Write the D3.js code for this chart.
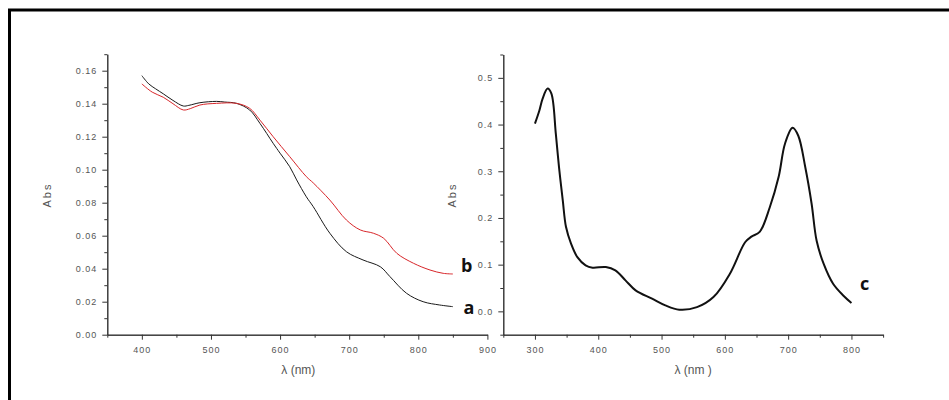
<!DOCTYPE html>
<html>
<head>
<meta charset="utf-8">
<script src="https://cdn.jsdelivr.net/npm/d3@7"></script>
<style>
  body { margin: 0; background: #fff; }
  .tick text { font-family: "Liberation Sans", Arial, sans-serif; font-size: 9px; fill: #555; letter-spacing: 1px; }
  .axis path, .axis line { stroke: #333; }
  .lab { font-family: "Liberation Sans", Arial, sans-serif; fill: #555; }
  .tag { font-family: "Open Sans", sans-serif; font-weight: bold; font-size: 18px; fill: #111; }
</style>
</head>
<body>
<svg width="949" height="400"></svg>
<script>
// left panel: curves a (black) and b (red)
var wlA = [400, 410, 420, 431, 445, 460, 468, 484, 508, 520, 537, 556, 571, 590, 600, 614, 624, 638, 648, 672, 696, 720, 745, 759, 783, 807, 831, 850];
var absA = [0.157, 0.152, 0.149, 0.146, 0.142, 0.1386, 0.139, 0.1406, 0.1414, 0.141, 0.1402, 0.1362, 0.128, 0.116, 0.110, 0.1018, 0.0938, 0.0836, 0.0776, 0.0615, 0.0503, 0.0453, 0.0412, 0.0352, 0.0251, 0.0200, 0.018, 0.017];
var wlB = [400, 415, 431, 445, 460, 470, 484, 508, 537, 556, 571, 590, 614, 638, 648, 672, 696, 716, 735, 750, 769, 793, 817, 836, 850];
var absB = [0.152, 0.147, 0.1439, 0.140, 0.1362, 0.137, 0.1392, 0.1402, 0.1402, 0.1372, 0.130, 0.120, 0.1079, 0.0958, 0.0920, 0.0816, 0.0695, 0.0635, 0.0615, 0.0584, 0.0493, 0.0433, 0.0392, 0.0372, 0.0368];
// right panel: curve c
var wlC = [300, 307, 312, 320, 326, 333, 338, 344, 349, 357, 367, 380, 391, 412, 427, 443, 459, 485, 506, 528, 556, 582, 608, 632, 642, 655, 671, 685, 695, 707, 716, 727, 737, 745, 756, 771, 787, 800];
var absC = [0.402, 0.430, 0.455, 0.477, 0.466, 0.380, 0.309, 0.237, 0.181, 0.145, 0.116, 0.0985, 0.0935, 0.0949, 0.0878, 0.0664, 0.045, 0.0272, 0.0128, 0.0036, 0.009, 0.0306, 0.0807, 0.148, 0.160, 0.170, 0.223, 0.288, 0.359, 0.393, 0.376, 0.309, 0.231, 0.151, 0.102, 0.059, 0.034, 0.018];

var leftYTicks = [0, 0.02, 0.04, 0.06, 0.08, 0.10, 0.12, 0.14, 0.16];
var leftXTicks = [400, 500, 600, 700, 800, 900];
var rightYTicks = [0.0, 0.1, 0.2, 0.3, 0.4, 0.5];
var rightXTicks = [300, 400, 500, 600, 700, 800];

var svg = d3.select("svg");

// frame (only top and left edges are in view)
svg.append("rect").attr("x", 9.5).attr("y", 10).attr("width", 1000).attr("height", 500)
    .attr("fill", "none").attr("stroke", "#000").attr("stroke-width", 3);

function panel(opt) {
    var x = d3.scaleLinear().domain(opt.xd).range(opt.xr);
    var y = d3.scaleLinear().domain(opt.yd).range(opt.yr);
    var g = svg.append("g");

    g.append("g").attr("class", "axis").attr("transform", "translate(0," + opt.yr[0] + ")")
        .call(d3.axisBottom(x).tickValues(opt.xMinor).tickSize(3).tickFormat("").tickSizeOuter(0));
    g.append("g").attr("class", "axis").attr("transform", "translate(0," + opt.yr[0] + ")")
        .call(d3.axisBottom(x).tickValues(opt.xTicks).tickSize(5).tickPadding(7).tickSizeOuter(0));
    g.append("g").attr("class", "axis").attr("transform", "translate(" + opt.xr[0] + ",0)")
        .call(d3.axisLeft(y).tickValues(opt.yMinor).tickSize(3).tickFormat("").tickSizeOuter(0));
    g.append("g").attr("class", "axis").attr("transform", "translate(" + opt.xr[0] + ",0)")
        .call(d3.axisLeft(y).tickValues(opt.yTicks).tickSize(5).tickPadding(5).tickSizeOuter(0).tickFormat(d3.format(opt.fmt)));

    g.append("text").attr("class", "lab").attr("font-size", 11)
        .attr("transform", "translate(" + opt.absX + ",195) rotate(-90)")
        .attr("text-anchor", "middle").attr("letter-spacing", 2).text("Abs");
    g.append("text").attr("class", "lab").attr("font-size", 12)
        .attr("x", (opt.xr[0] + opt.xr[1]) / 2 + opt.lamDx).attr("y", 374)
        .attr("text-anchor", "middle").text(opt.lamText);

    var line = d3.line().curve(d3.curveCatmullRom)
        .x(function(d) { return x(d[0]); })
        .y(function(d) { return y(d[1]); });
    opt.series.forEach(function(s) {
        g.append("path").datum(d3.zip(s.wl, s.abs))
            .attr("fill", "none").attr("stroke", s.color).attr("stroke-width", s.w)
            .attr("stroke-linejoin", "round").attr("d", line);
    });
    return {x: x, y: y};
}

function range(a, b, s) { return d3.range(a, b + s / 2, s).map(function(v) { return +v.toFixed(3); }); }

panel({
    xd: [350, 900], xr: [107.3, 487.4],
    yd: [0, 0.17], yr: [334.7, 334.7 - 0.17 * 1650],
    xTicks: leftXTicks, xMinor: range(350, 850, 100),
    yTicks: leftYTicks, yMinor: range(0.01, 0.17, 0.02),
    fmt: ".2f", absX: 51, lamText: "λ (nm)", lamDx: 1,
    series: [
        {wl: wlA, abs: absA, color: "#1a1a1a", w: 1},
        {wl: wlB, abs: absB, color: "#d8262a", w: 1}
    ]
});

panel({
    xd: [250, 850], xr: [503.3, 883.1],
    yd: [-0.05, 0.55], yr: [334.7, 334.7 - 0.6 * 467],
    xTicks: rightXTicks, xMinor: range(250, 850, 100),
    yTicks: rightYTicks, yMinor: range(-0.05, 0.55, 0.1),
    fmt: ".1f", absX: 456, lamText: "λ (nm )", lamDx: 0,
    series: [
        {wl: wlC, abs: absC, color: "#111", w: 2}
    ]
});

svg.append("text").attr("class", "tag").attr("x", 461).attr("y", 272).text("b");
svg.append("text").attr("class", "tag").attr("x", 463.5).attr("y", 314).text("a");
svg.append("text").attr("class", "tag").attr("x", 860).attr("y", 290).text("c");
</script>
</body>
</html>
